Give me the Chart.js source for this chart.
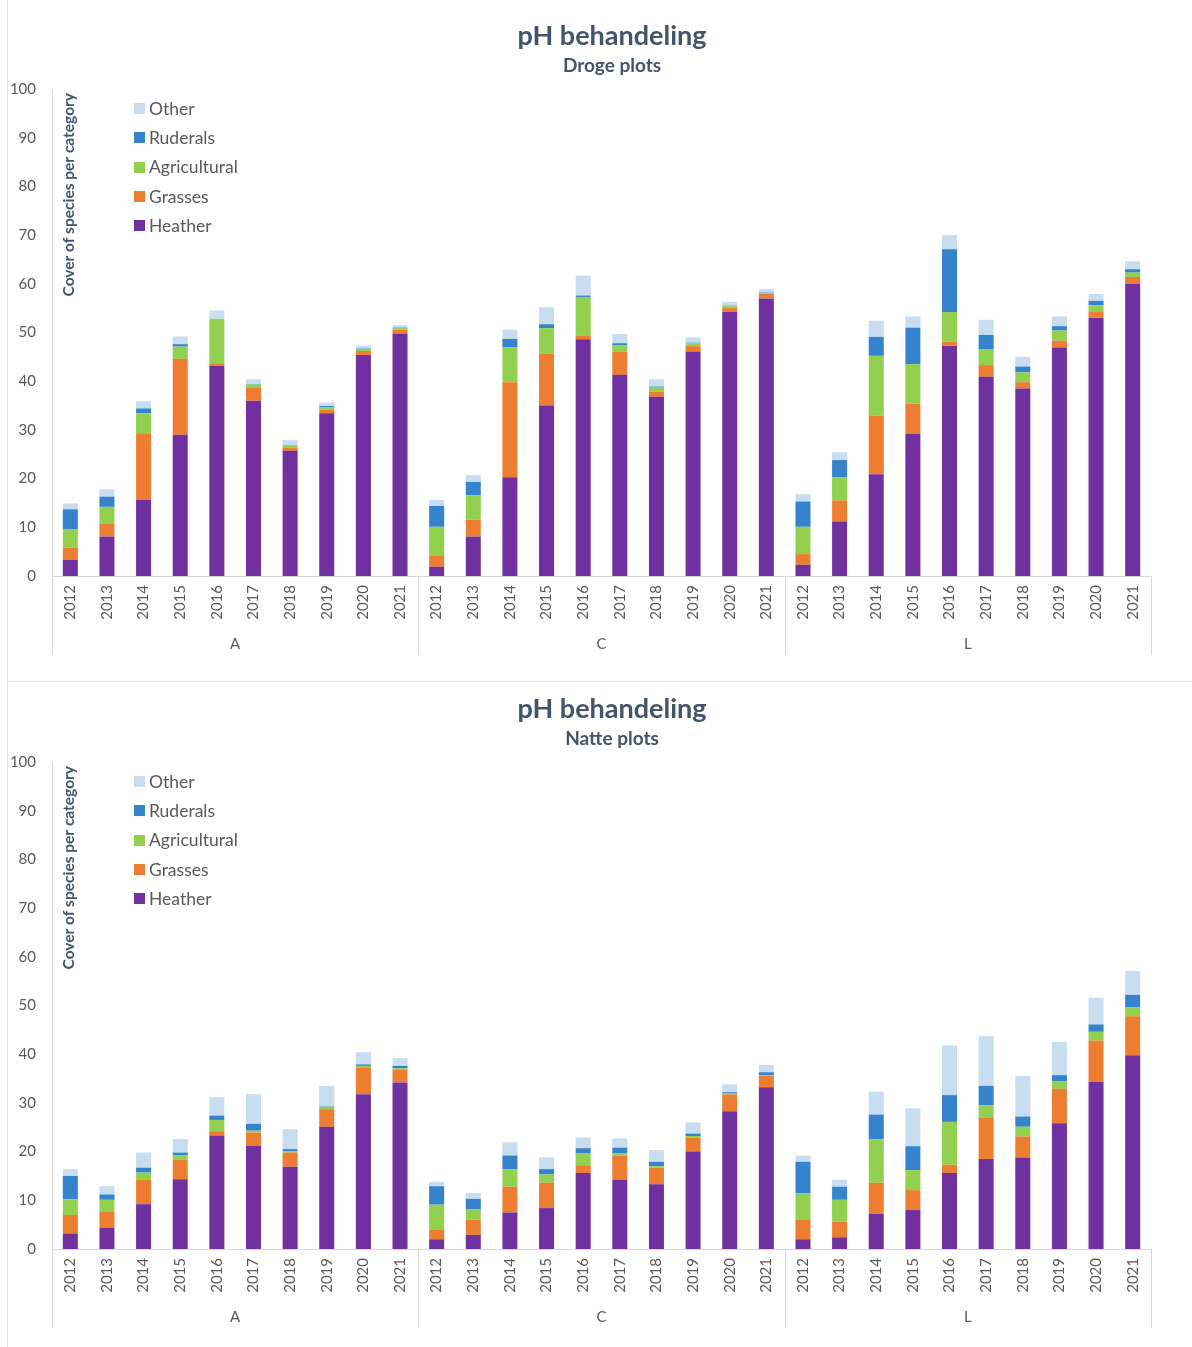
<!DOCTYPE html>
<html>
<head>
<meta charset="utf-8">
<script src="https://cdn.jsdelivr.net/npm/chart.js@4"></script>
<style>
  body { margin: 0; background: #fff; overflow: hidden; width: 1192px; height: 1347px; position: relative; }
  canvas { position: absolute; left: 8px; }
  #c1 { top: 0; }
  #c2 { top: 673px; }
  .vline { position: absolute; left: 7px; top: 0; width: 1px; height: 1347px; background: #e3e3e3; }
  .hline { position: absolute; left: 7px; top: 681px; width: 1185px; height: 1px; background: #e3e3e3; }
</style>
</head>
<body>
<div class="vline"></div>
<div class="hline"></div>
<canvas id="c1" width="1208" height="674"></canvas>
<canvas id="c2" width="1208" height="674"></canvas>
<script>
const years = ["2012", "2013", "2014", "2015", "2016", "2017", "2018", "2019", "2020", "2021"];
const groups = ["A", "C", "L"];

// Droge plots (A, C, L each 2012..2021)
const drogeHeather = [3.3, 8.1, 15.6, 29.0, 43.1, 36.0, 25.7, 33.4, 45.4, 49.8,
  1.9, 8.1, 20.3, 35.0, 48.6, 41.3, 36.8, 46.1, 54.2, 57.0,
  2.3, 11.2, 20.9, 29.2, 47.3, 40.9, 38.5, 46.9, 53.0, 60.0];
const drogeGrasses = [2.5, 2.6, 13.7, 15.6, 0.6, 2.6, 0.7, 0.8, 0.8, 0.8,
  2.2, 3.5, 19.5, 10.7, 0.7, 4.8, 1.1, 1.1, 0.8, 1.0,
  2.2, 4.3, 12.0, 6.2, 0.8, 2.4, 1.3, 1.4, 1.2, 1.4];
const drogeAgricultural = [3.85, 3.5, 4.1, 2.5, 9.1, 0.7, 0.4, 0.4, 0.4, 0.3,
  6.0, 5.0, 7.2, 5.2, 8.0, 1.3, 0.8, 0.6, 0.4, 0.1,
  5.6, 4.8, 12.3, 8.1, 6.1, 3.2, 2.0, 2.1, 1.4, 0.9];
const drogeRuderals = [4.05, 2.1, 1.0, 0.5, 0, 0.1, 0.1, 0.3, 0.1, 0.1,
  4.3, 2.7, 1.7, 0.8, 0.3, 0.4, 0.2, 0.1, 0.1, 0.1,
  5.2, 3.5, 3.9, 7.5, 12.9, 3.0, 1.2, 0.9, 0.9, 0.7];
const drogeOther = [1.2, 1.5, 1.5, 1.6, 1.7, 1.0, 1.0, 0.7, 0.6, 0.5,
  1.2, 1.4, 1.9, 3.5, 4.1, 1.9, 1.5, 1.1, 0.8, 0.7,
  1.5, 1.6, 3.3, 2.3, 2.9, 3.1, 2.0, 2.0, 1.4, 1.6];

// Natte plots
const natteHeather = [3.2, 4.4, 9.2, 14.3, 23.3, 21.2, 16.9, 25.1, 31.8, 34.2,
  2.0, 2.9, 7.5, 8.4, 15.6, 14.2, 13.3, 20.0, 28.3, 33.2,
  2.0, 2.4, 7.2, 8.0, 15.6, 18.5, 18.8, 25.8, 34.3, 39.8];
const natteGrasses = [3.8, 3.2, 5.0, 4.0, 0.9, 2.7, 2.9, 3.6, 5.5, 2.7,
  1.9, 3.1, 5.3, 5.2, 1.6, 5.0, 3.4, 2.9, 3.4, 2.4,
  4.1, 3.2, 6.4, 4.1, 1.7, 8.4, 4.3, 7.1, 8.5, 8.0];
const natteAgricultural = [3.2, 2.5, 1.5, 0.9, 2.3, 0.4, 0.3, 0.5, 0.3, 0.2,
  5.2, 2.2, 3.6, 1.7, 2.4, 0.5, 0.3, 0.3, 0.2, 0.1,
  5.3, 4.5, 8.9, 4.1, 8.8, 2.6, 2.0, 1.5, 1.8, 1.8];
const natteRuderals = [4.8, 1.1, 1.0, 0.6, 0.9, 1.4, 0.4, 0.1, 0.3, 0.5,
  3.8, 2.1, 2.8, 1.1, 1.1, 1.1, 0.9, 0.5, 0.3, 0.6,
  6.5, 2.7, 5.1, 4.9, 5.5, 4.0, 2.1, 1.3, 1.5, 2.6];
const natteOther = [1.4, 1.7, 3.1, 2.8, 3.8, 6.1, 4.1, 4.2, 2.5, 1.6,
  0.9, 1.2, 2.7, 2.4, 2.2, 1.9, 2.4, 2.3, 1.6, 1.5,
  1.3, 1.4, 4.7, 7.8, 10.2, 10.2, 8.3, 6.8, 5.5, 4.9];

const seriesNames = ["Heather", "Grasses", "Agricultural", "Ruderals", "Other"];
const seriesColors = ["#7030a0", "#ed7d31", "#92d050", "#3583cc", "#c9ddf0"];

const FONT = "Lato";
const AXIS_TEXT = "#595959";
const TITLE_TEXT = "#44546a";
const LINE = "#d9d9d9";

// draws the group separators, the y title and the legend inside the plot
const extras = {
  id: "extras",
  afterDraw(chart, args, opts) {
    const ctx = chart.ctx;
    const area = chart.chartArea;
    const g = chart.scales.groups;
    ctx.save();
    ctx.strokeStyle = LINE;
    ctx.lineWidth = 1;
    const step = g.width / groups.length;
    for (let i = 0; i <= groups.length; i++) {
      const x = Math.round(g.left + i * step) + 0.5;
      ctx.beginPath();
      ctx.moveTo(x, area.bottom);
      ctx.lineTo(x, g.bottom - 5);
      ctx.stroke();
    }
    ctx.restore();

    ctx.save();
    ctx.translate(area.left + 17, area.top + 4);
    ctx.rotate(-Math.PI / 2);
    ctx.font = "bold 15.5px " + FONT;
    ctx.fillStyle = TITLE_TEXT;
    ctx.textAlign = "right";
    ctx.textBaseline = "middle";
    ctx.fillText(opts.yTitle, 0, 0);
    ctx.restore();

    ctx.save();
    const sets = chart.data.datasets.slice().reverse();
    ctx.font = "17.5px " + FONT;
    ctx.textBaseline = "middle";
    ctx.textAlign = "left";
    sets.forEach((ds, i) => {
      const y = area.top + 19 + i * 29.3;
      ctx.fillStyle = ds.backgroundColor;
      ctx.fillRect(area.left + 82, Math.round(y - 5), 11, 11);
      ctx.fillStyle = AXIS_TEXT;
      ctx.fillText(ds.label, area.left + 97, y + 1);
    });
    ctx.restore();
  }
};

function makeChart(id, subtitle, values) {
  const labels = [];
  for (const g of groups) for (const y of years) labels.push(y);
  const datasets = seriesNames.map((name, i) => ({
    label: name,
    data: values[i],
    backgroundColor: seriesColors[i],
    borderWidth: 0,
    categoryPercentage: 1,
    barPercentage: 0.41
  }));
  new Chart(document.getElementById(id), {
    type: "bar",
    data: { labels, datasets },
    plugins: [extras],
    options: {
      responsive: false,
      animation: false,
      layout: { padding: { left: 0, right: 0, top: 0, bottom: 14 } },
      plugins: {
        legend: { display: false },
        tooltip: { enabled: false },
        title: {
          display: true,
          text: "pH behandeling",
          color: TITLE_TEXT,
          font: { family: FONT, size: 27, weight: "bold" },
          padding: { top: 19.8, bottom: 2 }
        },
        subtitle: {
          display: true,
          text: subtitle,
          color: TITLE_TEXT,
          font: { family: FONT, size: 19, weight: "bold" },
          padding: { top: 0.4, bottom: 11.6 }
        },
        extras: { yTitle: "Cover of species per category" }
      },
      scales: {
        x: {
          stacked: true,
          grid: { display: false, drawTicks: false },
          border: { display: true, color: LINE },
          ticks: {
            autoSkip: false,
            minRotation: 90,
            maxRotation: 90,
            padding: 9,
            color: AXIS_TEXT,
            font: { family: FONT, size: 15 }
          },
          afterFit: (s) => { s.height = 52; }
        },
        groups: {
          type: "category",
          position: "bottom",
          labels: groups,
          offset: true,
          grid: { display: false, drawTicks: false },
          border: { display: false },
          ticks: { padding: 7, color: AXIS_TEXT, font: { family: FONT, size: 15 } },
          afterFit: (s) => { s.height = 32; }
        },
        y: {
          stacked: true,
          min: 0,
          max: 100,
          grid: { display: false, drawTicks: false },
          border: { display: true, color: LINE },
          ticks: { stepSize: 10, padding: 16, color: AXIS_TEXT, font: { family: FONT, size: 15 } },
          afterFit: (s) => { s.width = 44; }
        },
        // empty right-hand space so the title centres like the original
        spacer: {
          type: "linear",
          position: "right",
          grid: { display: false, drawTicks: false },
          border: { display: false },
          ticks: { display: false },
          afterFit: (s) => { s.width = 65; }
        }
      }
    }
  });
}

makeChart("c1", "Droge plots", [drogeHeather, drogeGrasses, drogeAgricultural, drogeRuderals, drogeOther]);
makeChart("c2", "Natte plots", [natteHeather, natteGrasses, natteAgricultural, natteRuderals, natteOther]);
</script>
</body>
</html>
